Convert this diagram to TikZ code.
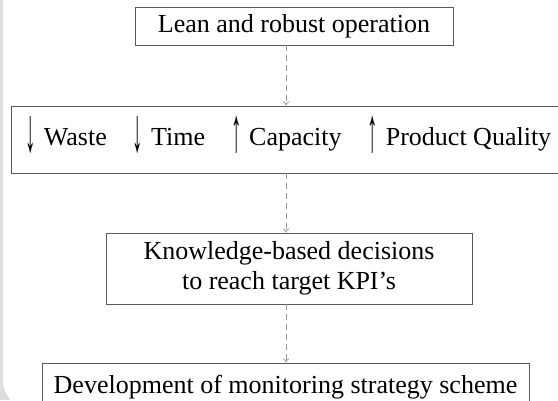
\documentclass[tikz,border=0pt]{standalone}
\usepackage{fontspec}
\usepackage{graphicx}
\setmainfont{Liberation Serif}
\usetikzlibrary{arrows.meta}
\newcommand{\tallarrow}[1]{\smash{\raisebox{-6bp}{\scalebox{0.8}[2.4]{#1}}}\hspace{0.3em}}
\begin{document}
\begin{tikzpicture}[x=1bp, y=-1bp, box/.style={draw=black!65, line width=0.9bp, fill=white, inner sep=0pt, align=center, font=\fontsize{26bp}{30bp}\selectfont}, flow/.style={draw=black!40, line width=0.8bp, dash pattern=on 6bp off 4bp, -{To[length=4bp, width=6bp]}}]
		\useasboundingbox (0,0) rectangle (558,400);
		\clip (0,0) rectangle (558,400);
		\fill[black!13] (0,0) rectangle (558,400);
		\fill[white, rounded corners=30bp] (3,-60) rectangle (640,410);
		\node[box, minimum width=318bp, minimum height=38bp] (lean) at (294, 26) {Lean and robust operation};
		\node[box, minimum width=555bp, minimum height=67bp] (kpi) at (288.5, 139.5) {\tallarrow{↓}Waste\hspace{1em}\tallarrow{↓}Time\hspace{1em}\tallarrow{↑}Capacity\hspace{1em}\tallarrow{↑}Product Quality};
		\node[box, minimum width=366bp, minimum height=71bp] (know) at (289, 268.5) {Knowledge-based decisions\\to reach target KPI’s};
		\node[box, minimum width=487bp, minimum height=48bp] (dev) at (285.5, 387) {Development of monitoring strategy scheme};
		\coordinate (ax) at (286, 0);
		\draw[flow] (lean.south -| ax) -- (kpi.north -| ax);
		\draw[flow] (kpi.south -| ax) -- (know.north -| ax);
		\draw[flow] (know.south -| ax) -- (dev.north -| ax);
	\end{tikzpicture}
\end{document}
